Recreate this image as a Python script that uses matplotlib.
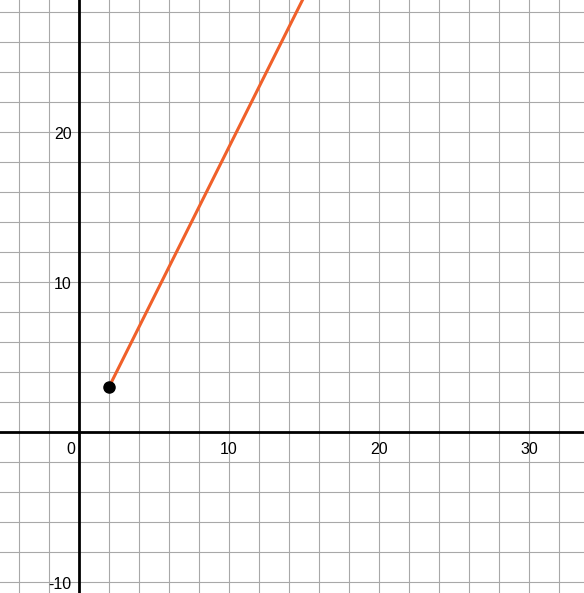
import matplotlib
matplotlib.use("Agg")
import matplotlib.pyplot as plt
import numpy as np

point_x, point_y = [2], [3]
line_x = [2, 20]
line_y = [3, 39]
x_ticks = [10, 20, 30]
y_ticks = [20, 10, -10]

fig = plt.figure(figsize=(5.84, 5.93), dpi=100)
ax = fig.add_axes([0, 0, 1, 1])
xmin, xmax = -79/15, (584-79)/15
ymin, ymax = -(593-432)/15, 432/15
ax.set_xlim(xmin, xmax); ax.set_ylim(ymin, ymax)
for s in ax.spines.values(): s.set_visible(False)
ax.set_xticks([]); ax.set_yticks([])
for gx in np.arange(-4, 34, 2):
    ax.axvline(gx, color='#a8a8a8', lw=0.8, zorder=0)
for gy in np.arange(-10, 30, 2):
    ax.axhline(gy, color='#a8a8a8', lw=0.8, zorder=0)
ax.axhline(0, color='black', lw=2, zorder=1)
ax.axvline(0, color='black', lw=2, zorder=1)
ax.plot(line_x, line_y, color='#f0602a', lw=2.2, zorder=2)
ax.plot(point_x, point_y, 'o', color='black', ms=8, zorder=3)
fp = dict(fontsize=11.5, family='Liberation Sans')
ax.text(-0.25, -1.2, '0', ha='right', va='center', **fp)
for t in x_ticks:
    ax.text(t, -1.2, str(t), ha='center', va='center', **fp)
for t in y_ticks:
    ax.text(-0.5, t - 0.15, str(t), ha='right', va='center', **fp)
fig.savefig('out.png', dpi=100)
